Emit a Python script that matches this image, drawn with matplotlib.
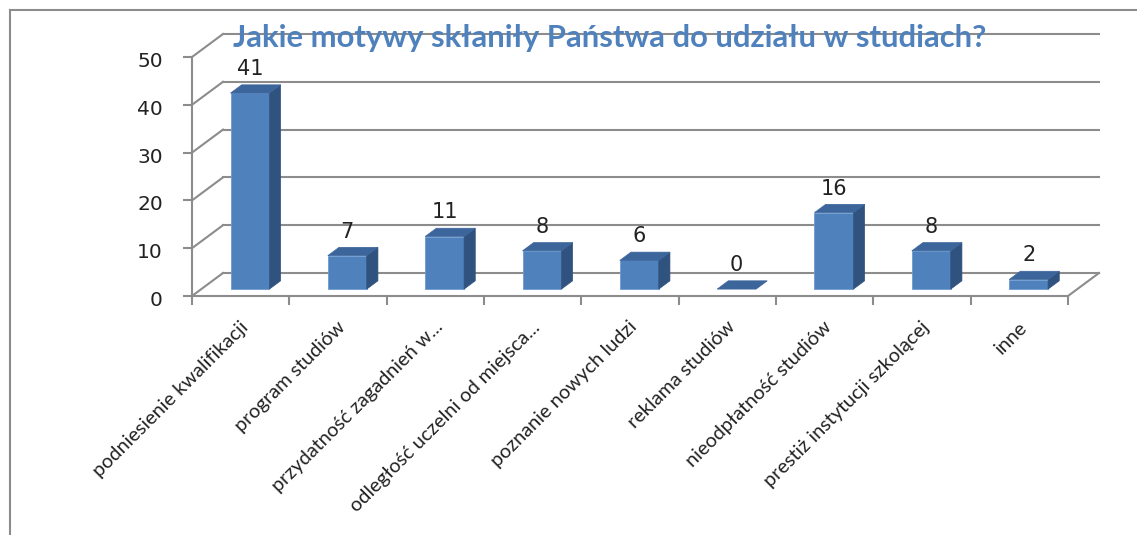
import numpy as np
import matplotlib.pyplot as plt
from matplotlib.patches import Polygon, Rectangle
from matplotlib.lines import Line2D

plt.rcParams['font.family'] = ['Lato', 'DejaVu Sans']

title = 'Jakie motywy skłaniły Państwa do udziału w studiach?'
categories = ['podniesienie kwalifikacji', 'program studiów', 'przydatność zagadnień w...',
              'odległość uczelni od miejsca...', 'poznanie nowych ludzi', 'reklama studiów',
              'nieodpłatność studiów', 'prestiż instytucji szkolącej', 'inne']
values = [41, 7, 11, 8, 6, 0, 16, 8, 2]
yticks = [0, 10, 20, 30, 40, 50]

W, H = 1137, 535
fig = plt.figure(figsize=(W / 100, H / 100), dpi=100)
fig.patch.set_facecolor('white')

# front plane of the 3d box
ax = fig.add_axes([192 / W, 1 - 296 / H, (1068 - 192) / W, (296 - 57) / H])
n = len(categories)
ax.set_xlim(0, n)
ax.set_ylim(0, 50)
ax.patch.set_visible(False)

# depth of the box, in data units
DX = 31 / ((1068 - 192) / n)
DY = 23 / ((296 - 57) / 50)

grid_c = '#8c8c8c'
for v in yticks:
    ax.plot([0, DX], [v, v + DY], color=grid_c, lw=1.5, clip_on=False, zorder=1)
    ax.plot([DX, n + DX], [v + DY, v + DY], color=grid_c, lw=1.5, clip_on=False, zorder=1)
ax.plot([n, n + DX], [0, DY], color=grid_c, lw=1.5, clip_on=False, zorder=1)

for side in ['top', 'right']:
    ax.spines[side].set_visible(False)
for side in ['left', 'bottom']:
    ax.spines[side].set_color(grid_c)
    ax.spines[side].set_linewidth(1.5)
    ax.spines[side].set_zorder(1)

ax.set_yticks(yticks)
ax.set_yticklabels([])
ax.set_xticks(np.arange(n + 1))
ax.set_xticklabels([])
ax.tick_params(axis='both', color=grid_c, width=1.5, length=6.5)

for t in yticks:
    ax.annotate(str(t), (0, t), xytext=(-21, -3.2), textcoords='offset points',
                ha='right', va='center', fontsize=14.5, color='#222222',
                family=['DejaVu Sans'], annotation_clip=False)

# bars
front_c, side_c, top_c = '#4f81bd', '#30527f', '#3b659b'
f0, d = 0.3, 0.36
bw = 0.4
for i, v in enumerate(values):
    xl = i + 0.5 - bw / 2 + f0 * DX
    xr = xl + bw
    y0 = f0 * DY
    yt = y0 + v
    ex, ey = d * DX, d * DY
    if v > 0:
        ax.add_patch(Rectangle((xl, y0), bw, v, facecolor=front_c, edgecolor='#6f9bd0',
                               lw=0.6, clip_on=False, zorder=3))
        ax.add_patch(Polygon([(xr, y0), (xr + ex, y0 + ey), (xr + ex, yt + ey), (xr, yt)],
                             closed=True, facecolor=side_c, edgecolor=side_c, lw=0.5,
                             clip_on=False, zorder=3))
    ax.add_patch(Polygon([(xl, yt), (xr, yt), (xr + ex, yt + ey), (xl + ex, yt + ey)],
                         closed=True, facecolor=top_c, edgecolor=top_c, lw=0.5,
                         clip_on=False, zorder=3))
    ax.annotate(str(v), (i + 0.5 + f0 * DX, yt), xytext=(0, 13), textcoords='offset points',
                ha='center', va='baseline', fontsize=15, color='#222222',
                family=['DejaVu Sans'], annotation_clip=False, zorder=4)

# category labels
for i, lab in enumerate(categories):
    ax.annotate(lab, (i + 0.5, 0), xytext=(-1, -16), textcoords='offset points',
                ha='right', va='top', rotation=45, rotation_mode='anchor',
                fontsize=14.3, color='#222222', annotation_clip=False)

fig.text(610 / W, 1 - 38 / H, title, ha='center', va='center', fontsize=22.3,
         fontweight='bold', color='#4f81bd', zorder=10)

# outer frame (cropped)
fig.add_artist(Line2D([10 / W, 10 / W], [0, 1 - 10 / H], color='#8c8c8c', lw=1.5))
fig.add_artist(Line2D([10 / W, 1], [1 - 10 / H, 1 - 10 / H], color='#8c8c8c', lw=1.5))

fig.savefig('out.png', dpi=100)
